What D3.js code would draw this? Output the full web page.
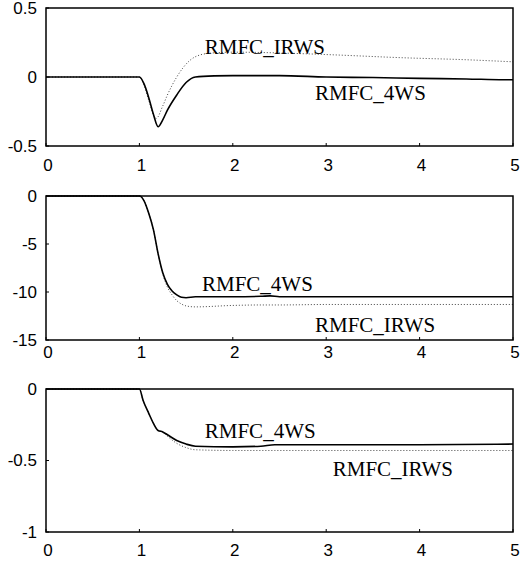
<!DOCTYPE html>
<html>
<head>
<meta charset="utf-8">
<script src="https://cdn.jsdelivr.net/npm/d3@7"></script>
<style>
  body { margin: 0; background: #fff; }
  .tick-label { font-family: "Liberation Sans", Arial, sans-serif; font-size: 17px; fill: #000; }
  .note { font-family: "Liberation Serif", "Times New Roman", serif; font-size: 21px; fill: #000; }
</style>
</head>
<body>
<div id="vis"></div>
<script>
// frame
const FRAME_WIDTH = 525;
const FRAME_HEIGHT = 562;
const X_LEFT = 46, X_RIGHT = 513;

// time axis ticks
const xTicks = [0, 1, 2, 3, 4, 5];

// panel 1 : values
const t1 = [0, 0.5, 1.0, 1.05, 1.1, 1.15, 1.2, 1.25, 1.3, 1.4, 1.5, 1.6, 1.8, 2.0, 2.5, 3.0, 3.5, 4.0, 4.5, 4.9, 5.0];
const p1_4ws = [0, 0, 0, -0.05, -0.15, -0.27, -0.36, -0.31, -0.24, -0.13, -0.04, 0.0, 0.008, 0.01, 0.01, 0.0, -0.004, -0.01, -0.014, -0.02, -0.02];
const t1b = [0, 0.5, 1.0, 1.05, 1.1, 1.18, 1.25, 1.3, 1.4, 1.54, 1.65, 1.8, 2.0, 2.7, 3.1, 3.8, 4.5, 5.0];
const p1_irws = [0, 0, 0, -0.06, -0.17, -0.30, -0.21, -0.13, 0.0, 0.12, 0.16, 0.175, 0.18, 0.17, 0.16, 0.14, 0.125, 0.11];
const yTicks1 = [-0.5, 0, 0.5];

// panel 2
const t2 = [0, 0.5, 1.0, 1.05, 1.1, 1.15, 1.2, 1.25, 1.3, 1.35, 1.4, 1.45, 1.5, 1.6, 2.0, 2.3, 2.4, 2.5, 3.0, 4.0, 5.0];
const p2_4ws = [0, 0, 0, -0.5, -1.8, -3.5, -6.0, -8.0, -9.2, -9.9, -10.3, -10.55, -10.6, -10.5, -10.5, -10.45, -10.4, -10.5, -10.5, -10.5, -10.5];
const p2_irws = [0, 0, 0, -0.5, -1.8, -3.5, -6.0, -8.1, -9.5, -10.3, -10.9, -11.25, -11.45, -11.55, -11.4, -11.35, -11.35, -11.35, -11.3, -11.3, -11.3];
const yTicks2 = [-15, -10, -5, 0];

// panel 3
const t3 = [0, 0.5, 1.0, 1.04, 1.1, 1.15, 1.2, 1.25, 1.3, 1.4, 1.5, 1.6, 2.0, 2.3, 2.45, 3.0, 4.0, 5.0];
const p3_4ws = [0, 0, 0, -0.08, -0.17, -0.24, -0.29, -0.30, -0.32, -0.36, -0.385, -0.40, -0.405, -0.40, -0.39, -0.39, -0.39, -0.385];
const p3_irws = [0, 0, 0, -0.08, -0.17, -0.24, -0.29, -0.30, -0.33, -0.38, -0.41, -0.425, -0.43, -0.43, -0.43, -0.43, -0.43, -0.43];
const yTicks3 = [-1, -0.5, 0];

const svg = d3.select("#vis")
  .append("svg")
    .attr("width", FRAME_WIDTH)
    .attr("height", FRAME_HEIGHT);

const X_SCALE = d3.scaleLinear().domain([0, 5]).range([X_LEFT, X_RIGHT]);

function drawPanel(cfg) {
  const y = d3.scaleLinear().domain(cfg.domain).range([cfg.bottom, cfg.top]);
  const g = svg.append("g");

  // tiny inner ticks like the original
  g.selectAll(".xt").data(xTicks).enter().append("line")
    .attr("x1", d => X_SCALE(d)).attr("x2", d => X_SCALE(d))
    .attr("y1", cfg.bottom).attr("y2", cfg.bottom - 3)
    .attr("stroke", "#000").attr("stroke-width", 1);
  g.selectAll(".yt").data(cfg.ticks).enter().append("line")
    .attr("x1", X_LEFT).attr("x2", X_LEFT + 3)
    .attr("y1", d => y(d)).attr("y2", d => y(d))
    .attr("stroke", "#000").attr("stroke-width", 1);

  const line = d3.line()
    .x(d => X_SCALE(d[0]))
    .y(d => y(d[1]))
    .curve(d3.curveMonotoneX);

  g.append("path")
    .datum(d3.zip(cfg.tDot, cfg.dotted))
    .attr("d", line)
    .attr("fill", "none")
    .attr("stroke", "#444")
    .attr("stroke-width", 1)
    .attr("stroke-dasharray", "1,2");

  g.append("path")
    .datum(d3.zip(cfg.tSolid, cfg.solid))
    .attr("d", line)
    .attr("fill", "none")
    .attr("stroke", "#000")
    .attr("stroke-width", 1.6);

  // box
  g.append("rect")
    .attr("x", X_LEFT).attr("y", cfg.top)
    .attr("width", X_RIGHT - X_LEFT).attr("height", cfg.bottom - cfg.top)
    .attr("fill", "none").attr("stroke", "#000").attr("stroke-width", 1.5);

  // y tick labels
  g.selectAll(".yl").data(cfg.ticks).enter().append("text")
    .attr("class", "tick-label")
    .attr("x", X_LEFT - 9)
    .attr("y", d => y(d))
    .attr("dy", "0.35em")
    .attr("text-anchor", "end")
    .text(d => d);

  // x tick labels
  g.selectAll(".xl").data(xTicks).enter().append("text")
    .attr("class", "tick-label")
    .attr("x", d => X_SCALE(d) + 2)
    .attr("y", cfg.xLabelY)
    .attr("dy", "0.35em")
    .attr("text-anchor", "middle")
    .text(d => d);

  // curve names
  cfg.notes.forEach(n => {
    g.append("text")
      .attr("class", "note")
      .attr("x", X_SCALE(n.t))
      .attr("y", y(n.v))
      .text(n.text);
  });
}

drawPanel({
  domain: [-0.5, 0.5], top: 8, bottom: 146, xLabelY: 165, ticks: yTicks1,
  tSolid: t1, solid: p1_4ws, tDot: t1b, dotted: p1_irws,
  notes: [{text: "RMFC_IRWS", t: 1.70, v: 0.165}, {text: "RMFC_4WS", t: 2.88, v: -0.165}]
});

drawPanel({
  domain: [-15, 0], top: 196, bottom: 340, xLabelY: 352, ticks: yTicks2,
  tSolid: t2, solid: p2_4ws, tDot: t2, dotted: p2_irws,
  notes: [{text: "RMFC_4WS", t: 1.67, v: -9.9}, {text: "RMFC_IRWS", t: 2.88, v: -14.2}]
});

drawPanel({
  domain: [-1, 0], top: 389, bottom: 532, xLabelY: 550, ticks: yTicks3,
  tSolid: t3, solid: p3_4ws, tDot: t3, dotted: p3_irws,
  notes: [{text: "RMFC_4WS", t: 1.70, v: -0.34}, {text: "RMFC_IRWS", t: 3.07, v: -0.61}]
});
</script>
</body>
</html>
